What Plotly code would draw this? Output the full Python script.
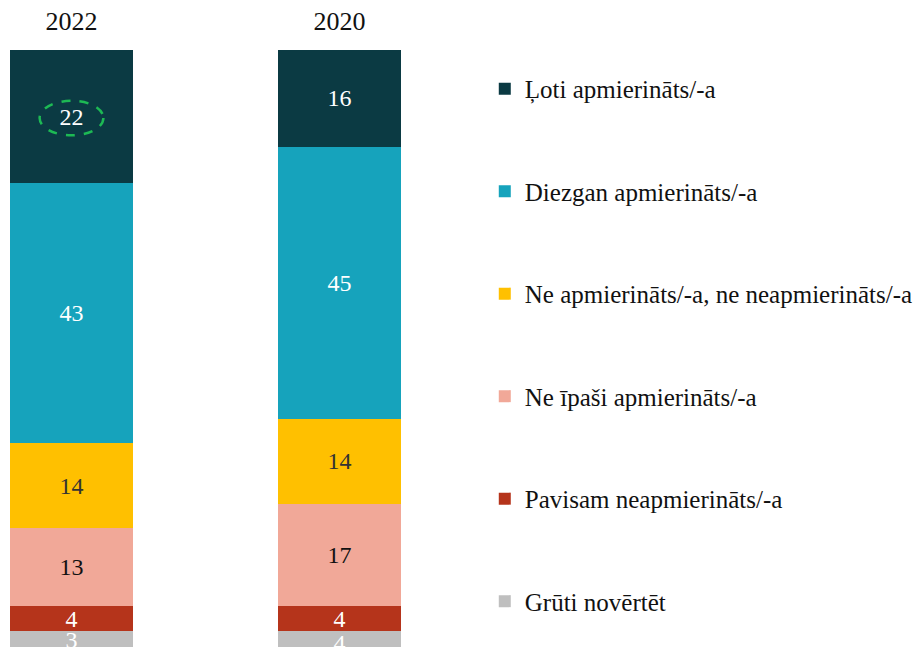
import plotly.graph_objects as go

years = ["2022", "2020"]
categories = [
    "Ļoti apmierināts/-a",
    "Diezgan apmierināts/-a",
    "Ne apmierināts/-a, ne neapmierināts/-a",
    "Ne īpaši apmierināts/-a",
    "Pavisam neapmierināts/-a",
    "Grūti novērtēt",
]
values_2022 = [22, 43, 14, 13, 4, 3]
values_2020 = [16, 45, 14, 17, 4, 4]
colors = ["#0B3A43", "#16A3BC", "#FFC000", "#F1A898", "#B5341B", "#BFBFBF"]
text_colors = ["white", "white", "#333333", "#111111", "white", "white"]

xpos = [0, 1]
FONT = "Liberation Serif"

fig = go.Figure()
for i, cat in enumerate(categories):
    vals = [values_2022[i], values_2020[i]]
    fig.add_trace(go.Bar(
        x=xpos, y=vals, name=cat, legendgroup=cat,
        marker=dict(color=colors[i], line=dict(width=0)),
        width=0.459,
        text=[str(v) for v in vals], textposition="inside",
        insidetextanchor="middle", textangle=0,
        textfont=dict(family=FONT, size=24, color=text_colors[i]),
        constraintext="none",
        hoverinfo="skip",
    ))

# dashed highlight ellipse around the 2022 top value
fig.add_shape(type="circle", xref="x", yref="y",
              x0=-0.119, x1=0.119, y0=8.4, y1=14.1,
              line=dict(color="#1DB954", width=2.5, dash="dash"))

fig.update_layout(
    barmode="stack",
    width=924, height=647,
    margin=dict(l=0, r=444, t=42, b=8, autoexpand=False),
    paper_bgcolor="white", plot_bgcolor="white",
    uniformtext=dict(mode=False),
    font=dict(family=FONT, size=24, color="#111111"),
    xaxis=dict(range=[-0.237, 1.554], side="top", tickvals=xpos, ticktext=years,
               showgrid=False, zeroline=False, showline=False, ticks="",
               automargin=False,
               tickfont=dict(family=FONT, size=26, color="#111111"), ticklabelstandoff=14),
    yaxis=dict(range=[98.7, 0], visible=False, automargin=False),
    legend=dict(xref="container", yref="container", x=0.516, y=0.9105,
                xanchor="left", yanchor="top",
                traceorder="grouped", tracegroupgap=67, maxheight=700,
                font=dict(family=FONT, size=25, color="#111111"),
                itemclick=False, itemdoubleclick=False),
    showlegend=True,
)

fig.write_html("out.html")
